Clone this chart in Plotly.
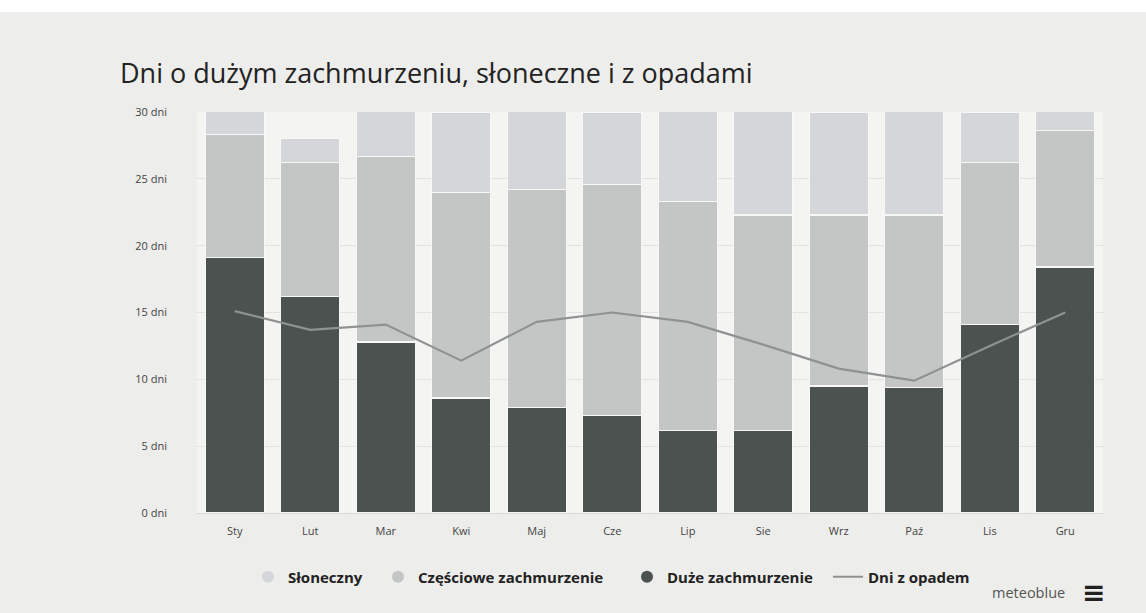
import plotly.graph_objects as go

months = ["Sty", "Lut", "Mar", "Kwi", "Maj", "Cze", "Lip", "Sie", "Wrz", "Paź", "Lis", "Gru"]
overcast = [19.1, 16.2, 12.8, 8.6, 7.9, 7.3, 6.2, 6.2, 9.5, 9.4, 14.1, 18.4]
partly = [9.2, 10.0, 13.9, 15.4, 16.3, 17.3, 17.1, 16.1, 12.8, 12.9, 12.1, 10.2]
sunny = [2.7, 1.8, 4.3, 6.0, 6.8, 5.4, 7.7, 8.7, 7.7, 8.7, 3.8, 2.4]
precip = [15.1, 13.7, 14.1, 11.4, 14.3, 15.0, 14.3, 12.6, 10.8, 9.9, 12.5, 15.0]
y_ticks = [0, 5, 10, 15, 20, 25, 30]
y_labels = [f"{v} dni" for v in y_ticks]

c_dark = "#4b524f"
c_partial = "#c3c6c5"
c_sunny = "#d4d6da"
c_line = "#8e9392"

W, H = 1146, 613
PL, PR, PT, PB = 197, 1103, 112, 513  # plot area in pixels


def px_x(x):
    return (x - PL) / (PR - PL)


def px_y(y):
    return (PB - y) / (PB - PT)


fig = go.Figure()
common = dict(marker_line=dict(color="#f7f7f5", width=1.2), showlegend=False)
fig.add_trace(go.Bar(x=months, y=overcast, marker_color=c_dark, name="Duże zachmurzenie", **common))
fig.add_trace(go.Bar(x=months, y=partly, marker_color=c_partial, name="Częściowe zachmurzenie", **common))
fig.add_trace(go.Bar(x=months, y=sunny, marker_color=c_sunny, name="Słoneczny", **common))
fig.add_trace(go.Scatter(x=months, y=precip, mode="lines", line=dict(color=c_line, width=2.2),
                         name="Dni z opadem", showlegend=False))

# legend entries (circle markers like the original), one legend box each
legend_items = [("Słoneczny", c_sunny, "legend"), ("Częściowe zachmurzenie", c_partial, "legend2"),
                ("Duże zachmurzenie", c_dark, "legend3")]
for nm, col, lg in legend_items:
    fig.add_trace(go.Scatter(x=[None], y=[None], mode="markers", name=nm, legend=lg,
                             marker=dict(color=col, size=12, symbol="circle")))
fig.add_trace(go.Scatter(x=[None], y=[None], mode="lines", name="Dni z opadem", legend="legend4",
                         line=dict(color=c_line, width=2)))

leg_font = dict(size=15, color="#222", family="Open Sans, sans-serif", weight="bold")


def leg(left_px):
    return dict(orientation="h", xref="container", yref="container", x=left_px / W, xanchor="left",
                y=1 - 577 / H, yanchor="middle", font=leg_font, bgcolor="rgba(0,0,0,0)")


fig.update_layout(
    width=W, height=H,
    barmode="stack", bargap=0.22,
    paper_bgcolor="#ededeb", plot_bgcolor="#f4f4f2",
    margin=dict(l=PL, r=W - PR, t=PT, b=H - PB),
    font=dict(family="Open Sans, DejaVu Sans, sans-serif", color="#444"),
    title=dict(text="Dni o dużym zachmurzeniu, słoneczne i z opadami",
               x=120 / W, xref="container", xanchor="left",
               y=1 - 74 / H, yref="container", yanchor="middle",
               font=dict(size=27, color="#222", family="Open Sans, sans-serif")),
    xaxis=dict(showgrid=False, tickfont=dict(size=11, color="#444"), ticks="",
               showline=True, linecolor="#d8d8d6", ticklabelstandoff=8),
    yaxis=dict(range=[0, 30], tickvals=y_ticks, ticktext=y_labels,
               tickfont=dict(size=11, color="#444"), gridcolor="#e2e2e0",
               zeroline=False, ticklabelstandoff=29),
    legend=leg(248), legend2=leg(378), legend3=leg(627), legend4=leg(828),
    shapes=[dict(type="rect", xref="paper", yref="paper", x0=-0.3, x1=1.1,
                 y0=px_y(12), y1=px_y(-5), fillcolor="white", line_width=0, layer="below")],
    annotations=[
        dict(text="meteoblue", xref="paper", yref="paper", x=px_x(1067),
             y=px_y(592), xanchor="right", yanchor="middle", showarrow=False,
             font=dict(size=14.5, color="#555")),
        dict(text="<b>≡</b>", xref="paper", yref="paper", x=px_x(1093),
             y=px_y(591), xanchor="center", yanchor="middle", showarrow=False,
             font=dict(size=28, color="#222")),
    ],
)

fig.write_html("out.html", config={"displayModeBar": False},
               post_script="document.body.style.margin='0';")
